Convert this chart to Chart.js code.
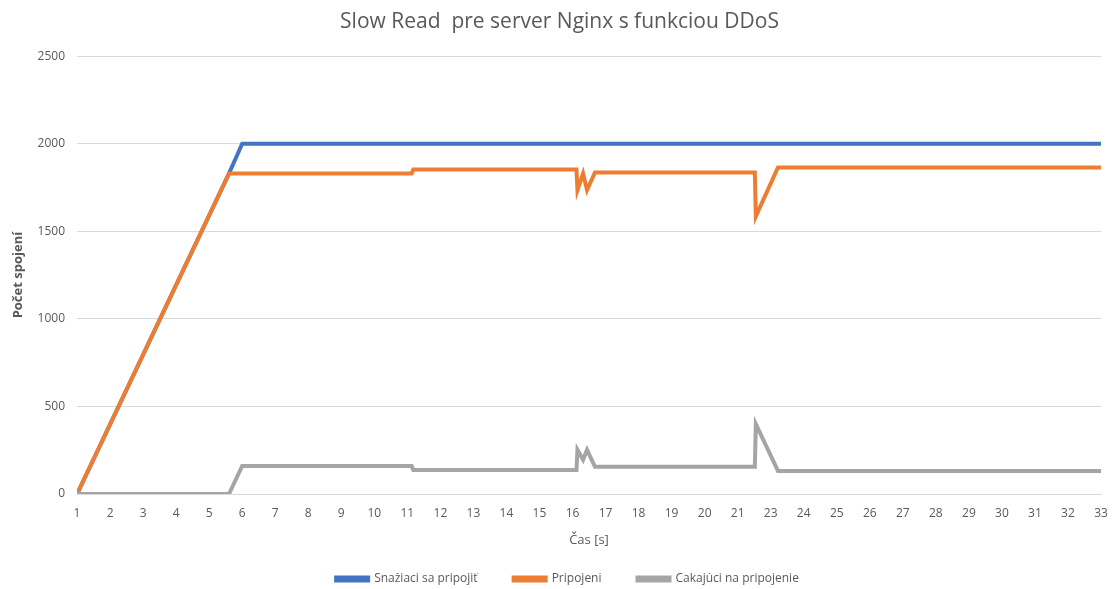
<!DOCTYPE html>
<html>
<head>
<meta charset="utf-8">
<script src="https://cdn.jsdelivr.net/npm/chart.js@4"></script>
<style>
  body { margin: 0; background: #fff; }
  #wrap { width: 1116px; height: 589px; position: relative; }
</style>
</head>
<body>
<div id="wrap"><canvas id="chart"></canvas></div>
<script>
// Popisky osi X (kategorie, 22 v povodnych datach chyba)
const timeLabels = [1,2,3,4,5,6,7,8,9,10,11,12,13,14,15,16,17,18,19,20,21,23,24,25,26,27,28,29,30,31,32,33];

// poloha vzoriek na osi X (v jednotkach kategorii)
const samplePos = [0, 4.6, 5.0, 10.13, 10.18, 15.12, 15.15, 15.32, 15.44, 15.68, 20.52, 20.55, 21.22, 31];

// hodnoty serii
const snaziaci = [0, 1830, 2000, 2000, 2000, 2000, 2000, 2000, 2000, 2000, 2000, 2000, 2000, 2000];
const pripojeni = [0, 1830, 1830, 1830, 1853, 1853, 1735, 1830, 1735, 1836, 1836, 1585, 1865, 1865];
const cakajuci = [0, 0, 160, 160, 137, 137, 252, 195, 252, 155, 155, 400, 132, 132];

const yTicks = [0, 500, 1000, 1500, 2000, 2500];

function toPoints(values) {
    return values.map((v, i) => ({ x: samplePos[i], y: v }));
}

const fontFamily = "'Open Sans', sans-serif";
const textColor = '#595959';

// posun legendy nizsie a trochu doprava
const legendShift = {
    id: 'legendShift',
    afterLayout(chart) {
        const lg = chart.legend;
        lg.top += 6;
        lg.bottom += 6;
        lg.left += 8;
        lg.right += 8;
    }
};

const ctx = document.getElementById('chart').getContext('2d');
new Chart(ctx, {
    type: 'line',
    data: {
        datasets: [{
            label: 'Snažiaci sa pripojiť',
            data: toPoints(snaziaci),
            borderColor: '#4472C4',
            backgroundColor: '#4472C4',
            borderWidth: 4,
            pointRadius: 0,
            tension: 0,
            order: 3
        },
        {
            label: 'Pripojení',
            data: toPoints(pripojeni),
            borderColor: '#ED7D31',
            backgroundColor: '#ED7D31',
            borderWidth: 4,
            pointRadius: 0,
            tension: 0,
            order: 2
        },
        {
            label: 'Čakajúci na pripojenie',
            data: toPoints(cakajuci),
            borderColor: '#A5A5A5',
            backgroundColor: '#A5A5A5',
            borderWidth: 4,
            pointRadius: 0,
            tension: 0,
            order: 1
        }]
    },
    plugins: [legendShift],
    options: {
        responsive: true,
        maintainAspectRatio: false,
        animation: false,
        layout: {
            padding: { left: 10, right: 7, top: 4, bottom: 0 }
        },
        plugins: {
            title: {
                display: true,
                text: 'Slow Read  pre server Nginx s funkciou DDoS',
                color: textColor,
                font: { family: fontFamily, size: 21, weight: 'normal' },
                padding: { top: 5, bottom: 22 }
            },
            legend: {
                position: 'bottom',
                labels: {
                    color: textColor,
                    font: { family: fontFamily, size: 12 },
                    boxWidth: 32,
                    boxHeight: 3,
                    padding: 0,
                    sort: (a, b) => a.datasetIndex - b.datasetIndex,
                    // medzera medzi polozkami legendy
                    generateLabels: function(chart) {
                        const items = Chart.defaults.plugins.legend.labels.generateLabels(chart);
                        const last = chart.data.datasets.length - 1;
                        items.forEach(item => {
                            if (item.datasetIndex < last) item.text += '\u2003\u2003\u2003';
                        });
                        return items;
                    }
                }
            },
            tooltip: { enabled: false }
        },
        scales: {
            x: {
                type: 'linear',
                min: 0,
                max: timeLabels.length - 1,
                grid: { display: false, drawTicks: false },
                border: { display: true, color: '#D9D9D9' },
                afterFit: function(scale) {
                    scale.paddingRight = 15;
                },
                ticks: {
                    stepSize: 1,
                    autoSkip: false,
                    maxRotation: 0,
                    padding: 12,
                    color: textColor,
                    font: { family: fontFamily, size: 12 },
                    callback: function(value) {
                        return timeLabels[value];
                    }
                },
                title: {
                    display: true,
                    text: 'Čas [s]',
                    color: textColor,
                    font: { family: fontFamily, size: 13 },
                    padding: { top: 0, bottom: 19 }
                }
            },
            y: {
                min: yTicks[0],
                max: yTicks[yTicks.length - 1],
                grid: { color: '#D9D9D9', drawTicks: false },
                border: { display: false },
                ticks: {
                    stepSize: 500,
                    padding: 12,
                    color: textColor,
                    font: { family: fontFamily, size: 12 },
                    callback: function(value) {
                        return String(value);
                    }
                },
                title: {
                    display: true,
                    text: 'Počet spojení',
                    color: textColor,
                    font: { family: fontFamily, size: 13, weight: 'bold' },
                    padding: { top: 0, bottom: 0 }
                }
            }
        }
    }
});
</script>
</body>
</html>
